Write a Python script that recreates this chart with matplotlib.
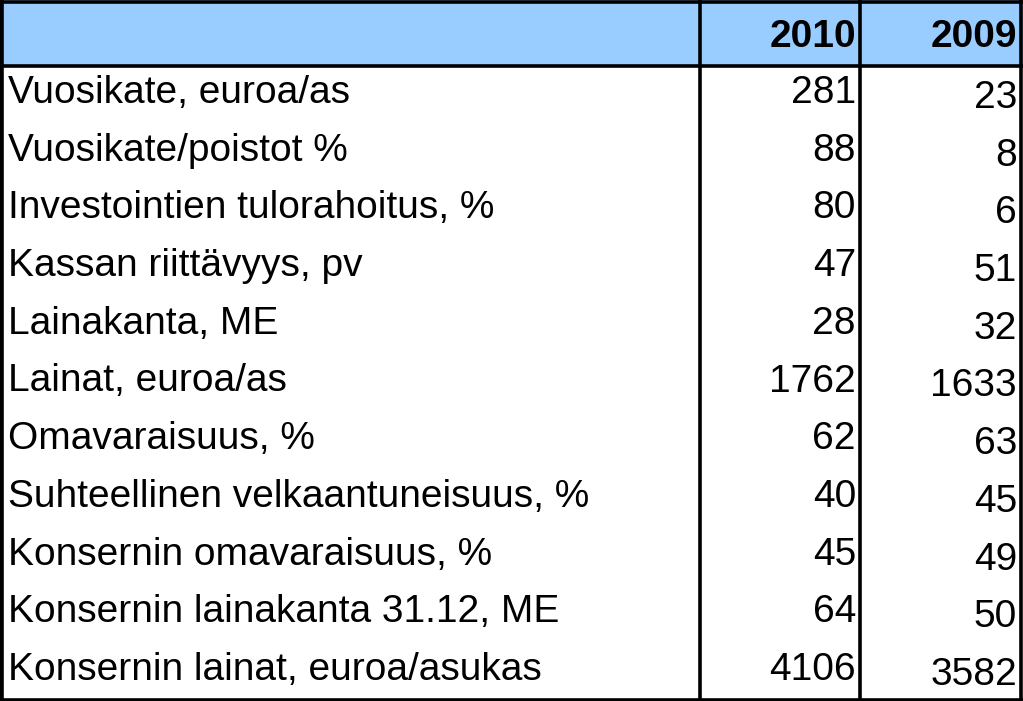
import matplotlib
matplotlib.use("Agg")
import matplotlib.pyplot as plt
from matplotlib.patches import Rectangle

labels = ["Vuosikate, euroa/as", "Vuosikate/poistot %", "Investointien tulorahoitus, %",
          "Kassan riittävyys, pv", "Lainakanta, ME", "Lainat, euroa/as", "Omavaraisuus, %",
          "Suhteellinen velkaantuneisuus, %", "Konsernin omavaraisuus, %",
          "Konsernin lainakanta 31.12, ME", "Konsernin lainat, euroa/asukas"]
years = ["2010", "2009"]
vals_2010 = [281, 88, 80, 47, 28, 1762, 62, 40, 45, 64, 4106]
vals_2009 = [23, 8, 6, 51, 32, 1633, 63, 45, 49, 50, 3582]

W, H = 1023, 701
fig = plt.figure(figsize=(W / 100, H / 100), dpi=100)
ax = fig.add_axes([0, 0, 1, 1])
ax.set_xlim(0, W)
ax.set_ylim(H, 0)
ax.axis("off")

head_h = 66
row_h = (H - head_h) / len(labels)
col_x = [0, 700, 860, 1021]
font = dict(family="Liberation Sans", fontsize=28)

ax.add_patch(Rectangle((0, 0), W, head_h, facecolor="#99CCFF", edgecolor="none"))
for i, y in enumerate(years):
    ax.text(col_x[i + 2] - 4, head_h / 2 + 4, y, ha="right", va="center",
            fontweight="bold", **font)

for i, lab in enumerate(labels):
    yc = head_h + (i + 0.5) * row_h
    ax.text(8, yc - 2, lab, ha="left", va="center", **font)
    ax.text(col_x[2] - 4, yc - 2, str(vals_2010[i]), ha="right", va="center", **font)
    ax.text(col_x[3] - 4, yc + 3, str(vals_2009[i]), ha="right", va="center", **font)

lw = 2.6
ax.plot([0, W], [head_h, head_h], color="black", lw=lw)
for x in col_x:
    ax.plot([x, x], [0, H], color="black", lw=lw)
ax.plot([0, W], [1.5, 1.5], color="black", lw=lw)
ax.plot([0, W], [H - 1.5, H - 1.5], color="black", lw=lw)
ax.plot([1.5, 1.5], [0, H], color="black", lw=lw)

fig.savefig("out.png", dpi=100)
